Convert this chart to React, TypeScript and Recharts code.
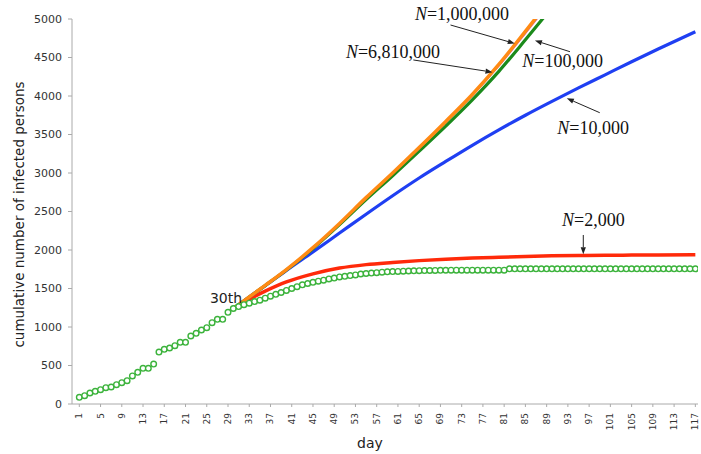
import { LineChart, Line, XAxis, YAxis, ReferenceLine, ReferenceDot } from "recharts";

const SANS = '"DejaVu Sans", Verdana, sans-serif';
const SERIF = '"Liberation Serif", "Times New Roman", serif';

// reported cumulative infections, day 1 .. day 117
const observedCounts = [
  87, 108, 143, 165, 186, 212, 221, 251, 277, 303,
  364, 412, 463, 463, 519, 675, 710, 727, 757, 801,
  801, 883, 918, 961, 991, 1056, 1100, 1100, 1191, 1240,
  1265, 1290, 1310, 1330, 1348, 1375, 1400, 1425, 1448, 1475,
  1500, 1524, 1548, 1565, 1580, 1595, 1608, 1625, 1635, 1650,
  1658, 1668, 1676, 1688, 1695, 1700, 1705, 1712, 1716, 1720,
  1722, 1725, 1727, 1729, 1731, 1733, 1734, 1735, 1736, 1737,
  1738, 1738, 1738, 1738, 1738, 1738, 1738, 1738, 1738, 1738,
  1738, 1756, 1756, 1756, 1756, 1756, 1756, 1756, 1756, 1756,
  1756, 1756, 1756, 1756, 1756, 1756, 1756, 1756, 1756, 1756,
  1756, 1756, 1756, 1756, 1756, 1756, 1756, 1756, 1756, 1756,
  1756, 1756, 1756, 1756, 1756, 1756, 1756,
];

// model runs started from day 30, one per population size N
const modelDays = [30, 33, 36, 40, 45, 50, 55, 60, 65, 70, 75, 80, 85, 90, 95, 100, 105, 110, 117];
const fitN2000 = [1240, 1360, 1465, 1585, 1690, 1765, 1810, 1838, 1862, 1880, 1895, 1906, 1916, 1924, 1929, 1932, 1934, 1936, 1937];
const fitN10000 = [1240, 1390, 1535, 1735, 1975, 2220, 2465, 2705, 2935, 3150, 3360, 3560, 3750, 3930, 4105, 4275, 4445, 4610, 4835];
const fitN100000 = [1240, 1390, 1538, 1740, 2020, 2330, 2655, 2965, 3285, 3610, 3950, 4320, 4730, 5150];
const fitN1000000 = [1240, 1390, 1539, 1744, 2028, 2342, 2675, 2993, 3320, 3657, 4003, 4388, 4812, 5250];
const fitN6810000 = [1240, 1390, 1540, 1745, 2030, 2345, 2680, 3000, 3330, 3670, 4020, 4410, 4840, 5280];

const dayTicks = [1, 5, 9, 13, 17, 21, 25, 29, 33, 37, 41, 45, 49, 53, 57, 61, 65, 69, 73, 77, 81, 85, 89, 93, 97, 101, 105, 109, 113, 117];
const countTicks = [0, 500, 1000, 1500, 2000, 2500, 3000, 3500, 4000, 4500, 5000];

const observed = observedCounts.map((count, i) => ({ day: i + 1, count }));
const toSeries = (values: number[]) => values.map((count, i) => ({ day: modelDays[i], count }));

// callouts, placed in (day, count) space
const callouts = [
  { n: "1,000,000", day: 64.2, value: 4987 },
  { n: "6,810,000", day: 51.2, value: 4494 },
  { n: "100,000", day: 84.4, value: 4377 },
  { n: "10,000", day: 91.0, value: 3506 },
  { n: "2,000", day: 91.9, value: 2312 },
];
const arrows = [
  { from: { x: 70.9, y: 4922 }, to: { x: 83.0, y: 4682 } },
  { from: { x: 63.9, y: 4468 }, to: { x: 78.8, y: 4310 } },
  { from: { x: 93.4, y: 4575 }, to: { x: 86.8, y: 4720 } },
  { from: { x: 99.0, y: 3783 }, to: { x: 92.8, y: 3970 } },
  { from: { x: 95.9, y: 2195 }, to: { x: 95.9, y: 1945 } },
];

function ArrowShape(props: any) {
  const { x1, y1, x2, y2 } = props;
  const a = Math.atan2(y2 - y1, x2 - x1);
  const len = 7;
  const half = 2.6;
  const bx = x2 - len * Math.cos(a);
  const by = y2 - len * Math.sin(a);
  const px = -Math.sin(a) * half;
  const py = Math.cos(a) * half;
  return (
    <g>
      <line x1={x1} y1={y1} x2={bx} y2={by} stroke="#222" strokeWidth={1} />
      <polygon points={`${x2},${y2} ${bx + px},${by + py} ${bx - px},${by - py}`} fill="#222" />
    </g>
  );
}

function DayTick(props: any) {
  const { x, y, payload } = props;
  return (
    <text
      transform={`translate(${x},${y}) rotate(-90)`}
      textAnchor="end"
      dominantBaseline="central"
      fontSize={9}
      fontFamily={SANS}
      fill="#333"
    >
      {payload.value}
    </text>
  );
}

const grey = "#aaa";

export default function App() {
  return (
    <div style={{ position: "absolute", left: 0, top: 0, background: "#fff" }}>
      <LineChart width={701} height={454} margin={{ top: 19, right: 3, bottom: 0, left: 0 }}>
        <XAxis
          dataKey="day"
          type="number"
          domain={[-0.375, 117.5]}
          allowDataOverflow
          ticks={dayTicks}
          interval={0}
          height={50}
          tickSize={3}
          tickMargin={6}
          axisLine={{ stroke: grey }}
          tickLine={{ stroke: grey }}
          tick={<DayTick />}
          label={(p: any) => {
            const vb = p.viewBox;
            return (
              <text x={vb.x + 298} y={vb.y + 44} textAnchor="middle" fontSize={14} fontFamily={SANS} fill="#222">
                day
              </text>
            );
          }}
        />
        <YAxis
          type="number"
          domain={[0, 5000]}
          allowDataOverflow
          ticks={countTicks}
          interval={0}
          width={72}
          tickSize={4}
          tickMargin={6}
          axisLine={{ stroke: grey }}
          tickLine={{ stroke: grey }}
          tick={{ fontSize: 11, fontFamily: SANS, fill: "#333" }}
          label={(p: any) => {
            const vb = p.viewBox;
            return (
              <text
                transform={`translate(${vb.x + 19},${vb.y + vb.height / 2 + 3}) rotate(-90)`}
                textAnchor="middle"
                dominantBaseline="central"
                fontSize={13.5}
                fontFamily={SANS}
                fill="#222"
              >
                cumulative number of infected persons
              </text>
            );
          }}
        />

        <Line
          data={observed}
          dataKey="count"
          stroke="none"
          dot={{ r: 2.8, fill: "#fff", stroke: "#3cb33c", strokeWidth: 1.4 }}
          activeDot={false}
          isAnimationActive={false}
        />
        <Line data={toSeries(fitN2000)} dataKey="count" type="monotone" stroke="#ff2a0a" strokeWidth={3.5} dot={false} isAnimationActive={false} />
        <Line data={toSeries(fitN10000)} dataKey="count" type="monotone" stroke="#1f3ff2" strokeWidth={3.2} dot={false} isAnimationActive={false} />
        <Line data={toSeries(fitN100000)} dataKey="count" type="monotone" stroke="#1b8a1b" strokeWidth={3.2} dot={false} isAnimationActive={false} />
        <Line data={toSeries(fitN1000000)} dataKey="count" type="monotone" stroke="#c060c8" strokeWidth={1.5} dot={false} isAnimationActive={false} />
        <Line data={toSeries(fitN6810000)} dataKey="count" type="monotone" stroke="#ff8a14" strokeWidth={3.5} dot={false} isAnimationActive={false} />

        {arrows.map((a, i) => (
          <ReferenceLine key={`arrow-${i}`} segment={[a.from, a.to]} shape={ArrowShape} />
        ))}
        {callouts.map((c) => (
          <ReferenceDot
            key={c.n}
            x={c.day}
            y={c.value}
            r={0}
            shape={(p: any) => (
              <text x={p.cx} y={p.cy} fontSize={18} fontFamily={SERIF} fill="#111">
                <tspan fontStyle="italic">N</tspan>={c.n}
              </text>
            )}
          />
        ))}
        <ReferenceDot
          x={25.6}
          y={1312}
          r={0}
          shape={(p: any) => (
            <text x={p.cx} y={p.cy} fontSize={14} fontFamily={SANS} fill="#222">
              30th
            </text>
          )}
        />
      </LineChart>
    </div>
  );
}
